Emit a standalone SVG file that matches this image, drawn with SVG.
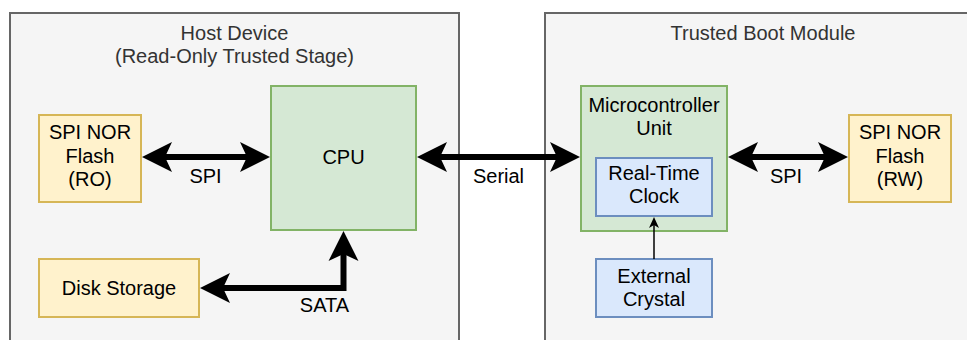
<svg xmlns="http://www.w3.org/2000/svg" width="967" height="340" viewBox="0 0 967 340">
<style>
  text { font-family: "Liberation Sans", Arial, Helvetica, sans-serif; font-size: 20px; fill: #000000; text-anchor: middle; }
  .title { fill: #333333; }
  .container { fill: #f5f5f5; stroke: #666666; stroke-width: 2; }
  .yellow { fill: #fff2cc; stroke: #d6b656; stroke-width: 2; }
  .green { fill: #d5e8d4; stroke: #82b366; stroke-width: 2; }
  .blue { fill: #dae8fc; stroke: #6c8ebf; stroke-width: 2; }
  .thick { fill: none; stroke: #000000; stroke-width: 6; stroke-linejoin: miter; marker-start: url(#big); marker-end: url(#big); }
  .thin { fill: none; stroke: #000000; stroke-width: 1.5; marker-end: url(#small); }
</style>
<defs>
  <marker id="big" markerUnits="userSpaceOnUse" viewBox="-8 -16 32 32" markerWidth="32" markerHeight="32" refX="0" refY="0" orient="auto-start-reverse">
    <path d="M-7,-15 L23,0 L-7,15 L0,0 Z" fill="#000000"/>
  </marker>
  <marker id="small" markerUnits="userSpaceOnUse" viewBox="-4 -6 14 12" markerWidth="14" markerHeight="12" refX="0" refY="0" orient="auto">
    <path d="M-3,-5 L8,0 L-3,5 L0,0 Z" fill="#000000"/>
  </marker>
</defs>
<rect width="967" height="340" fill="#ffffff"/>

<g id="host-device">
  <rect class="container" x="10" y="13" width="449" height="340"/>
  <text class="title" x="234.5" y="40">Host Device</text>
  <text class="title" x="234.5" y="63">(Read-Only Trusted Stage)</text>
</g>
<g id="trusted-boot-module">
  <rect class="container" x="545" y="13" width="436" height="340"/>
  <text class="title" x="763" y="40">Trusted Boot Module</text>
</g>

<g id="spi-nor-ro">
  <rect class="yellow" x="39" y="115" width="102" height="87"/>
  <text x="90" y="139">SPI NOR</text>
  <text x="90" y="163">Flash</text>
  <text x="90" y="186">(RO)</text>
</g>
<g id="cpu">
  <rect class="green" x="271" y="86" width="145" height="144"/>
  <text x="343.5" y="164">CPU</text>
</g>
<g id="disk-storage">
  <rect class="yellow" x="39" y="259" width="160" height="58"/>
  <text x="119" y="295">Disk Storage</text>
</g>
<g id="mcu">
  <rect class="green" x="581" y="86" width="146" height="145"/>
  <text x="654" y="112">Microcontroller</text>
  <text x="654" y="135">Unit</text>
</g>
<g id="rtc">
  <rect class="blue" x="596" y="158" width="116" height="58"/>
  <text x="654" y="180">Real-Time</text>
  <text x="654" y="203">Clock</text>
</g>
<g id="external-crystal">
  <rect class="blue" x="596" y="259" width="116" height="58"/>
  <text x="654" y="283">External</text>
  <text x="654" y="306">Crystal</text>
</g>
<g id="spi-nor-rw">
  <rect class="yellow" x="849" y="115" width="102" height="87"/>
  <text x="900" y="139">SPI NOR</text>
  <text x="900" y="163">Flash</text>
  <text x="900" y="186">(RW)</text>
</g>

<g id="connectors">
  <path class="thick" d="M165,157 L247,157"/>
  <text x="205.5" y="183">SPI</text>
  <path class="thick" d="M440,157 L557,157"/>
  <text x="498.5" y="183">Serial</text>
  <path class="thick" d="M751,157 L825,157"/>
  <text x="786" y="183">SPI</text>
  <path class="thick" d="M223,288 L343.5,288 L343.5,254"/>
  <text x="324.5" y="312">SATA</text>
  <path class="thin" d="M654,259 L654,225"/>
</g>
</svg>
